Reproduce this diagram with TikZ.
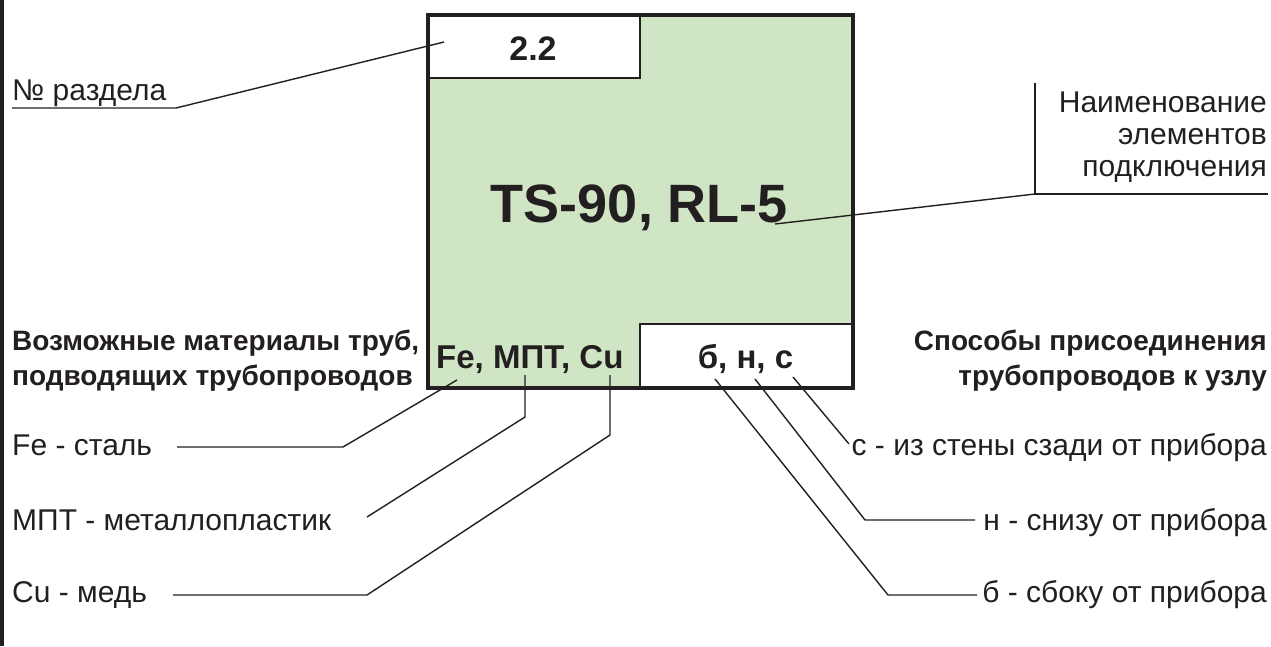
\documentclass[tikz,border=0pt]{standalone}
\usepackage{fontspec}
\setmainfont{Liberation Sans}
\definecolor{boxgreen}{RGB}{207,229,196}
\definecolor{ink}{RGB}{35,31,32}
\begin{document}
\begin{tikzpicture}[x=1pt,y=-1pt,
  txt/.style={inner sep=0pt,text=ink,font=\fontsize{30}{32}\selectfont},
  head/.style={inner sep=0pt,text=ink,font=\fontsize{28}{32}\selectfont\bfseries},
  boxtxt/.style={inner sep=0pt,text=ink,font=\fontsize{33}{36}\selectfont\bfseries},
  leader/.style={draw=ink,line width=1.4pt,line join=miter},
  subbox/.style={fill=white,draw=ink,line width=2pt}]
\useasboundingbox (0,0) rectangle (1271,646);
% left bar
\fill[ink] (0,0) rectangle (4,646);
% main box
\fill[boxgreen] (428,14.5) rectangle (852.5,388);
\draw[subbox] (428,14.5) rectangle (640,78);
\draw[subbox] (640,388) rectangle (852.5,324);
\draw[ink,line width=4pt] (428,14.5) rectangle (852.5,388);
% box texts
\node[inner sep=0pt,text=ink,font=\fontsize{34}{36}\selectfont\bfseries,anchor=base] (sec) at (533,60) {2.2};
\node[inner sep=0pt,text=ink,font=\fontsize{54}{58}\selectfont\bfseries,anchor=base] (name) at (639.5,222) {TS-90, RL-5};
\node[boxtxt,anchor=base west] (mat) at (436,368) {Fe, МПТ, Cu};
\node[boxtxt,anchor=base] (conn) at (745.5,368) {б, н, с};
% section label
\node[txt,anchor=base west] (razd) at (12,100) {№ раздела};
\coordinate (razdA) at (12,108);
\coordinate (razdB) at (176,108);
\coordinate (razdC) at (444,42);
\draw[leader] (razdA) -- (razdB) -- (razdC);
% name label
\node[txt,anchor=base east] (nm1) at (1267,112) {Наименование};
\node[txt,anchor=base east] (nm2) at (1267,144) {элементов};
\node[txt,anchor=base east] (nm3) at (1267,176) {подключения};
\coordinate (nmTop) at (1035,83);
\coordinate (nmCorner) at (1035,194);
\coordinate (nmEnd) at (1268,194);
\coordinate (nmTip) at (775,224);
\draw[leader] (nmTop) -- (nmCorner) -- (nmEnd);
\draw[leader] (nmCorner) -- (nmTip);
% headings
\node[head,anchor=base west] (hl1) at (12,350) {Возможные материалы труб,};
\node[head,anchor=base west] (hl2) at (12,385) {подводящих трубопроводов};
\node[head,anchor=base east] (hr1) at (1267,350) {Способы присоединения};
\node[head,anchor=base east] (hr2) at (1267,385) {трубопроводов к узлу};
% left items
\node[txt,anchor=base west] (fe) at (12,455) {Fe - сталь};
\node[txt,anchor=base west] (mpt) at (12,530) {МПТ - металлопластик};
\node[txt,anchor=base west] (cu) at (12,602) {Cu - медь};
\coordinate (feA) at (177,447);
\coordinate (feB) at (343,447);
\coordinate (feC) at (457,380);
\draw[leader] (feA) -- (feB) -- (feC);
\coordinate (mptA) at (367,517);
\coordinate (mptB) at (525,417);
\coordinate (mptC) at (525,375);
\draw[leader] (mptA) -- (mptB) -- (mptC);
\coordinate (cuA) at (173,595);
\coordinate (cuB) at (367,595);
\coordinate (cuC) at (610,435);
\coordinate (cuD) at (610,375);
\draw[leader] (cuA) -- (cuB) -- (cuC) -- (cuD);
% right items
\node[txt,anchor=base east] (sitem) at (1267,455) {с - из стены сзади от прибора};
\node[txt,anchor=base east] (nitem) at (1267,530) {н - снизу от прибора};
\node[txt,anchor=base east] (bitem) at (1267,602) {б - сбоку от прибора};
\coordinate (sA) at (849,444);
\coordinate (sB) at (793,377);
\draw[leader] (sA) -- (sB);
\coordinate (nA) at (975,520);
\coordinate (nB) at (865,520);
\coordinate (nC) at (755,379);
\draw[leader] (nA) -- (nB) -- (nC);
\coordinate (bA) at (977,595);
\coordinate (bB) at (888,595);
\coordinate (bC) at (715,379);
\draw[leader] (bA) -- (bB) -- (bC);
\end{tikzpicture}
\end{document}
